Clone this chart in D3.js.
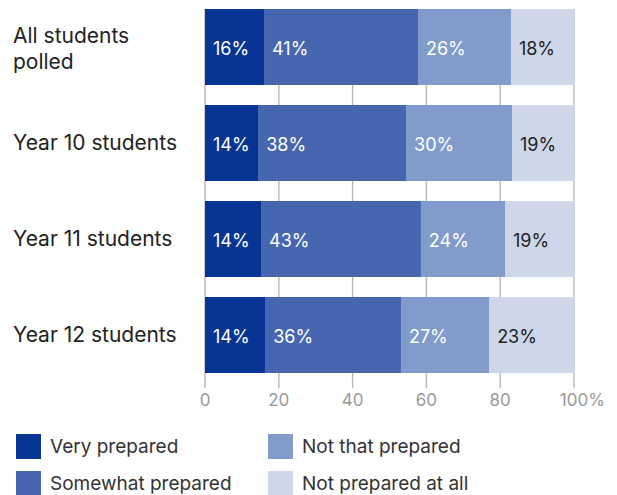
<!DOCTYPE html>
<html>
<head>
<meta charset="utf-8">
<script src="https://cdn.jsdelivr.net/npm/d3@7"></script>
<style>
  html, body { margin: 0; padding: 0; background: #fff; }
  svg { display: block; font-family: Inter, "Noto Sans", sans-serif; }
</style>
</head>
<body>
<svg id="chart" width="617" height="495"></svg>
<script>
// ---- data ----
const categories = [["All students", "polled"], ["Year 10 students"], ["Year 11 students"], ["Year 12 students"]];
const seriesNames = ["Very prepared", "Somewhat prepared", "Not that prepared", "Not prepared at all"];
// drawn segment widths (%)
const veryPrepared      = [16.0, 14.4, 15.2, 16.3];
const somewhatPrepared  = [41.7, 40.1, 43.3, 36.8];
const notThatPrepared   = [25.2, 28.7, 22.8, 23.9];
const notPreparedAtAll  = [17.1, 16.8, 18.7, 23.0];
// printed labels (%)
const veryPreparedLbl     = [16, 14, 14, 14];
const somewhatPreparedLbl = [41, 38, 43, 36];
const notThatPreparedLbl  = [26, 30, 24, 27];
const notPreparedAtAllLbl = [18, 19, 19, 23];
const tickValues = [0, 20, 40, 60, 80, 100];
const colors = ["#083593", "#4667af", "#819bca", "#cdd7e9"];
const labelColors = ["#ffffff", "#ffffff", "#ffffff", "#222222"];

const values = [veryPrepared, somewhatPrepared, notThatPrepared, notPreparedAtAll];
const labels = [veryPreparedLbl, somewhatPreparedLbl, notThatPreparedLbl, notPreparedAtAllLbl];

const rows = categories.map((c, i) => {
  const r = { idx: i };
  seriesNames.forEach((s, k) => r[s] = values[k][i]);
  return r;
});
const stacked = d3.stack().keys(seriesNames)(rows);

const svg = d3.select("#chart");
const x = d3.scaleLinear().domain([0, 100]).range([205, 574]);
const y = d3.scaleBand().domain(d3.range(categories.length)).range([9, 373]).paddingInner(20 / 96).paddingOuter(0);

// gridlines
svg.append("g").selectAll("line").data(tickValues).join("line")
  .attr("x1", d => x(d)).attr("x2", d => x(d))
  .attr("y1", 9).attr("y2", 388)
  .attr("stroke", "#b8b8b8").attr("stroke-width", 1.4);

// bars
const layers = svg.append("g").selectAll("g").data(stacked).join("g")
  .attr("fill", (d, k) => colors[k]);
layers.selectAll("rect").data(d => d).join("rect")
  .attr("x", d => x(d[0]))
  .attr("width", d => Math.max(0, Math.min(x(d[1]), x(100)) - x(d[0])) + 0.5)
  .attr("y", (d, i) => y(i))
  .attr("height", y.bandwidth());

// labels in bars
const lbl = svg.append("g").attr("font-size", 18);
stacked.forEach((layer, k) => {
  lbl.append("g").attr("fill", labelColors[k]).selectAll("text").data(layer).join("text")
    .attr("x", d => x(d[0]) + 8)
    .attr("y", (d, i) => y(i) + y.bandwidth() / 2 + 7.5)
    .text((d, i) => labels[k][i] + "%");
});

// category labels
const cat = svg.append("g").attr("font-size", 21).attr("fill", "#222");
categories.forEach((lines, i) => {
  const cy = y(i) + y.bandwidth() / 2;
  const t = cat.append("text").attr("x", 13);
  const n = lines.length;
  lines.forEach((ln, j) => {
    t.append("tspan").attr("x", 13)
      .attr("y", cy + 7 + (j - (n - 1) / 2) * 26 + (n > 1 ? 2 : 0))
      .text(ln);
  });
});

// axis tick labels
const ax = svg.append("g").attr("font-size", 17).attr("fill", "#999");
tickValues.forEach(v => {
  const t = ax.append("text").attr("y", 406).text(String(v));
  const w = t.node().getComputedTextLength();
  t.attr("x", x(v) - w / 2);
  if (v === 100) t.text(v + "%");
});

// legend
const legPos = [[16, 434], [16, 471], [268, 434], [268, 471]];
const leg = svg.append("g").selectAll("g").data(seriesNames).join("g")
  .attr("transform", (d, k) => `translate(${legPos[k][0]},${legPos[k][1]})`);
leg.append("rect").attr("width", 25).attr("height", 25).attr("fill", (d, k) => colors[k]);
leg.append("text").attr("x", 34).attr("y", 18.5).attr("font-size", 19).attr("fill", "#333").text(d => d);
</script>
</body>
</html>
